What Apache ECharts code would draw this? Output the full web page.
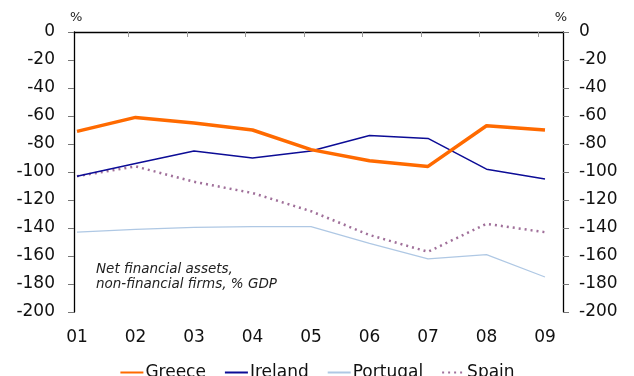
<!DOCTYPE html>
<html>
<head>
<meta charset="utf-8">
<script src="https://cdn.jsdelivr.net/npm/echarts@6/dist/echarts.min.js"></script>
<style>
  html, body { margin: 0; padding: 0; background: #fff; }
  #chart { width: 634px; height: 376px; }
</style>
</head>
<body>
<div id="chart"></div>
<script>
// years 2001..2009, shown as 01..09
var years = [1, 2, 3, 4, 5, 6, 7, 8, 9];
var yTicks = [0, -20, -40, -60, -80, -100, -120, -140, -160, -180, -200];

var greece   = [-71, -61, -65, -70, -84, -92, -96, -67, -70];
var ireland  = [-103, -94, -85, -90, -85, -74, -76, -98, -105];
var portugal = [-143, -141, -139.5, -139, -139, -151, -162, -159, -175];
var spain    = [-103, -96, -107, -115, -128, -145, -157, -137, -143];

var chart = echarts.init(document.getElementById('chart'));
var font = 'DejaVu Sans, Verdana, sans-serif';

function pairs(vals) {
    return vals.map(function (v, i) { return [years[i], v]; });
}

// Excel puts the category ticks slightly off the points
var topTicks = years.slice(1).map(function (v) { return v - 0.12; });

chart.setOption({
    animation: false,
    textStyle: { fontFamily: font },
    title: {
        text: 'Net financial assets,\nnon-financial firms, % GDP',
        left: 96,
        top: 262,
        padding: 0,
        textStyle: { fontSize: 13.5, fontStyle: 'italic', fontWeight: 'normal', color: '#222', lineHeight: 15, fontFamily: font }
    },
    legend: {
        left: 'center',
        top: 359,
        itemWidth: 23,
        itemHeight: 10,
        itemGap: 18,
        itemStyle: { opacity: 0 },
        textStyle: { fontSize: 17, color: '#111', padding: [0, 0, 0, -3] },
        data: ['Greece', 'Ireland', 'Portugal', 'Spain']
    },
    grid: { left: 74, right: 71, top: 32, bottom: 64 },
    xAxis: [{
        type: 'value',
        min: 0.9487,
        max: 9.3077,
        position: 'bottom',
        axisLine: { show: false },
        axisTick: { show: false },
        splitLine: { show: false },
        axisLabel: {
            customValues: years,
            margin: 17,
            fontSize: 17,
            color: '#111',
            formatter: function (v) { return '0' + v; }
        }
    }, {
        type: 'value',
        min: 0.9487,
        max: 9.3077,
        position: 'top',
        axisLine: { show: true, onZero: false, lineStyle: { color: '#000', width: 1.3 } },
        axisTick: { show: true, inside: true, length: 5, customValues: topTicks, lineStyle: { color: '#999' } },
        axisLabel: { show: false },
        splitLine: { show: false }
    }],
    yAxis: [{
        type: 'value',
        position: 'left',
        min: -200,
        max: 0,
        interval: 20,
        name: '%',
        nameLocation: 'end',
        nameGap: 8,
        nameTextStyle: { fontSize: 13, color: '#222', align: 'left', padding: [0, 0, 0, -4] },
        axisLine: { show: true, lineStyle: { color: '#000', width: 1.3 } },
        axisTick: { show: true, length: 6, lineStyle: { color: '#777' } },
        axisLabel: { fontSize: 17, color: '#111', margin: 19 },
        splitLine: { show: false }
    }, {
        type: 'value',
        position: 'right',
        min: -200,
        max: 0,
        interval: 20,
        name: '%',
        nameLocation: 'end',
        nameGap: 8,
        nameTextStyle: { fontSize: 13, color: '#222', align: 'right', padding: [0, -4, 0, 0] },
        axisLine: { show: true, lineStyle: { color: '#000', width: 1.3 } },
        axisTick: { show: true, length: 6, lineStyle: { color: '#777' } },
        axisLabel: { fontSize: 17, color: '#111', margin: 16 },
        splitLine: { show: false }
    }],
    series: [{
        name: 'Greece',
        type: 'line',
        symbol: 'none',
        data: pairs(greece),
        lineStyle: { color: '#FF6A00', width: 3.5 },
        itemStyle: { color: '#FF6A00' },
        z: 5
    }, {
        name: 'Ireland',
        type: 'line',
        symbol: 'none',
        data: pairs(ireland),
        lineStyle: { color: '#0C0C96', width: 1.5 },
        itemStyle: { color: '#0C0C96' },
        z: 4
    }, {
        name: 'Portugal',
        type: 'line',
        symbol: 'none',
        data: pairs(portugal),
        lineStyle: { color: '#AFC8E4', width: 1.2 },
        itemStyle: { color: '#AFC8E4' },
        z: 2
    }, {
        name: 'Spain',
        type: 'line',
        symbol: 'none',
        data: pairs(spain),
        lineStyle: { color: '#A0709A', width: 2.5, type: [2, 4] },
        itemStyle: { color: '#A0709A' },
        z: 3
    }]
});
</script>
</body>
</html>
